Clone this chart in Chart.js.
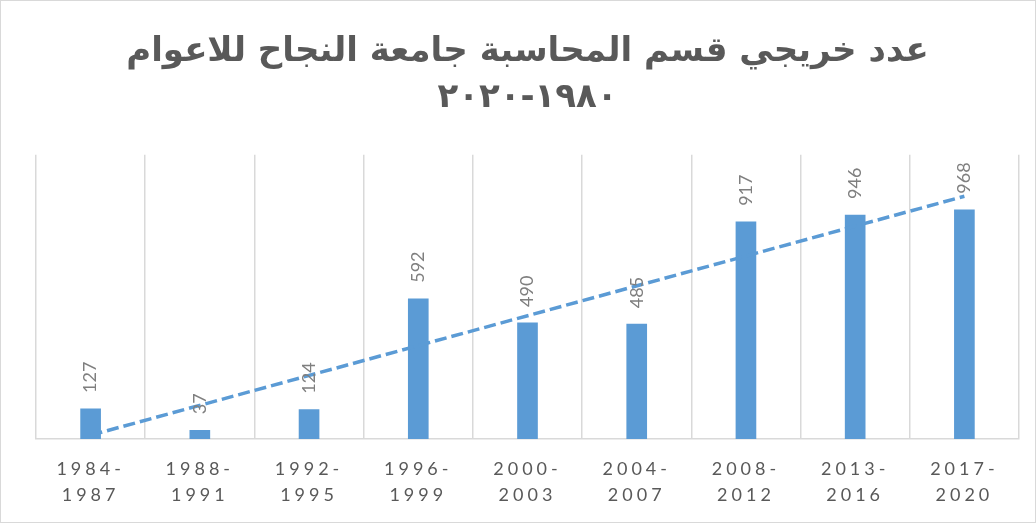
<!DOCTYPE html>
<html lang="ar">
<head>
<meta charset="utf-8">
<title>عدد خريجي قسم المحاسبة</title>
<script src="https://cdn.jsdelivr.net/npm/chart.js@4.4.1/dist/chart.umd.min.js"></script>
<style>
  html, body { margin: 0; padding: 0; background: #fff; }
  #marco { width: 1034px; height: 521px; border: 1px solid #d9d9d9; position: relative; }
</style>
</head>
<body>
<div id="marco"><canvas id="graficoEgresados"></canvas></div>
<script>
const periodos = [
  ["1984-", "1987"], ["1988-", "1991"], ["1992-", "1995"],
  ["1996-", "1999"], ["2000-", "2003"], ["2004-", "2007"],
  ["2008-", "2012"], ["2013-", "2016"], ["2017-", "2020"]
];
const egresados = [127, 37, 124, 592, 490, 485, 917, 946, 968];
// linea de tendencia: solo los extremos
const tendencia = [16, null, null, null, null, null, null, null, 1025];
const tituloLineas = ["عدد خريجي قسم المحاسبة جامعة النجاح للاعوام", "١٩٨٠-٢٠٢٠"];

const AZUL = "#5b9bd5";
const GRIS_TEXTO = "#595959";
const GRIS_LINEA = "#d9d9d9";

// etiquetas giradas encima de cada barra + espaciado de letras del eje x
const etiquetasBarras = {
  id: "etiquetasBarras",
  beforeUpdate(chart) { chart.ctx.letterSpacing = "4px"; },
  afterUpdate(chart) { chart.ctx.letterSpacing = "0px"; },
  beforeDraw(chart) { chart.ctx.letterSpacing = "0px"; },
  afterDatasetsDraw(chart) {
    const ctx = chart.ctx;
    const meta = chart.getDatasetMeta(1);
    ctx.save();
    ctx.font = "18px Lato";
    ctx.fillStyle = "#7f7f7f";
    ctx.textAlign = "left";
    ctx.textBaseline = "middle";
    meta.data.forEach((barra, i) => {
      ctx.save();
      ctx.translate(barra.x, barra.y - 16);
      ctx.rotate(-Math.PI / 2);
      ctx.fillText(String(egresados[i]), 0, 0);
      ctx.restore();
    });
    ctx.restore();
    ctx.letterSpacing = "4px";
  },
  afterDraw(chart) { chart.ctx.letterSpacing = "0px"; }
};

document.addEventListener("DOMContentLoaded", () => {
  const lienzo = document.getElementById("graficoEgresados");
  new Chart(lienzo, {
    data: {
      labels: periodos,
      datasets: [
        {
          type: "line",
          label: "الاتجاه",
          data: tendencia,
          spanGaps: true,
          borderColor: AZUL,
          borderWidth: 3.5,
          borderDash: [12, 5],
          pointRadius: 0,
          fill: false,
          order: 0
        },
        {
          type: "bar",
          label: "عدد الخريجين",
          data: egresados,
          backgroundColor: AZUL,
          barThickness: 20,
          order: 1
        }
      ]
    },
    options: {
      responsive: true,
      maintainAspectRatio: false,
      animation: false,
      layout: { padding: { left: 35, right: 16, top: 0, bottom: 14 } },
      plugins: {
        legend: { display: false },
        tooltip: { enabled: false },
        title: {
          display: true,
          text: tituloLineas,
          color: GRIS_TEXTO,
          font: { family: "DejaVu Sans", size: 34, weight: "bold", lineHeight: 1.35 },
          padding: { top: 28, bottom: 34 }
        }
      },
      scales: {
        x: {
          offset: true,
          grid: { display: true, offset: true, color: GRIS_LINEA, lineWidth: 1.5, drawTicks: false },
          border: { display: true, color: GRIS_LINEA, width: 1.5 },
          ticks: {
            z: 1,
            color: GRIS_TEXTO,
            font: { family: "Lato", size: 18, lineHeight: 1.45 },
            padding: 17,
            maxRotation: 0,
            autoSkip: false
          },
          afterFit(escala) { escala.height = 69; }
        },
        y: {
          display: false,
          min: 0,
          max: 1200
        }
      }
    },
    plugins: [etiquetasBarras]
  });
});
</script>
</body>
</html>
